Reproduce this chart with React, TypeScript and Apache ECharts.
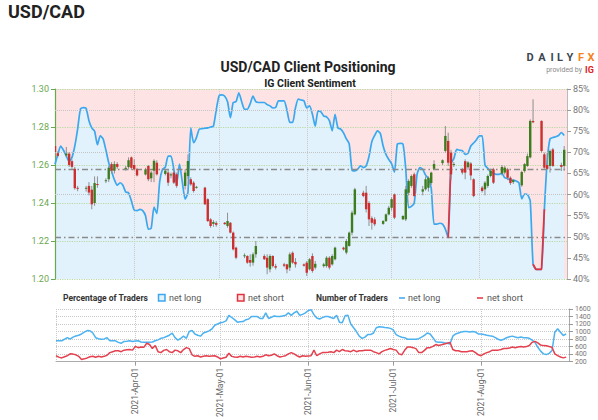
import React, { useEffect, useRef } from 'react';
import * as echarts from 'echarts';

const MONTHS = ['Jan', 'Feb', 'Mar', 'Apr', 'May', 'Jun', 'Jul', 'Aug', 'Sep', 'Oct', 'Nov', 'Dec'];
const AXIS_START = '2021-03-04';
const AXIS_END = '2021-09-01';
const DAILY_START = '2021-03-04';
const PRICE_TICKS = { min: 1.2, max: 1.3, interval: 0.02 };
const PCT_TICKS = { min: 40, max: 85, interval: 5 };
const COUNT_TICKS = { min: 200, max: 1600, interval: 200 };
const PCT_GUIDES = [80, 70, 60];
const PCT_MARKS = [66, 50];

// IG client sentiment: % of traders net long, one value per calendar day from DAILY_START
const pctLong = [
  67.2, 69.5, 71.5, 70.5, 69.1, 67.8, 68.8, 71.5, 75.5, 80.3,
  80.6, 80.4, 77.5, 75.8, 75.0, 71.8, 73.9, 73.2, 70.5, 67.5,
  65.5, 63.5, 62.2, 62.8, 62.2, 60.6, 60.4, 58.5, 56.3, 56.2,
  56.5, 56.2, 55.0, 51.8, 52.0, 57.0, 55.5, 63.0, 66.0, 66.5,
  69.1, 69.1, 66.0, 62.5, 67.2, 63.0, 58.9, 60.5, 75.8, 72.3,
  73.5, 75.5, 75.6, 75.7, 75.8, 76.0, 76.2, 80.0, 83.4, 83.6,
  83.3, 82.0, 78.2, 81.8, 82.0, 84.1, 82.0, 80.2, 80.2, 81.5,
  83.3, 82.0, 81.8, 81.8, 81.8, 81.3, 81.0, 80.5, 80.6, 82.2,
  82.2, 82.2, 80.0, 77.1, 77.1, 80.5, 82.6, 82.4, 82.2, 80.5,
  81.0, 79.0, 76.2, 79.8, 79.6, 78.6, 78.4, 77.5, 75.1, 79.0,
  75.8, 75.5, 74.6, 73.2, 72.0, 65.8, 65.6, 66.0, 66.8, 66.4,
  66.8, 69.0, 72.5, 74.0, 75.1, 74.5, 71.5, 69.5, 68.3, 67.3,
  65.3, 71.9, 72.1, 72.0, 66.0, 56.9, 57.2, 58.0, 64.8, 66.4,
  66.0, 64.6, 63.8, 61.5, 53.0, 53.0, 53.2, 53.0, 51.8, 49.8,
  67.4, 68.5, 70.7, 70.5, 70.4, 69.5, 69.8, 71.5, 72.2, 73.0,
  73.9, 73.9, 67.0, 66.2, 65.4, 65.0, 64.8, 64.8, 65.0, 64.0,
  63.8, 63.4, 63.4, 63.2, 62.8, 59.0, 60.1, 60.0, 58.5, 43.5,
  42.3, 42.3, 42.3, 56.5, 68.0, 73.2, 73.5, 73.7, 74.0, 74.7,
  74.0,
];

// Number of traders, one value per calendar day from DAILY_START
const netLongCount = [
  754, 754, 754, 795, 837, 800, 853, 880, 903, 936,
  986, 1027, 1019, 961, 837, 810, 795, 804, 837, 754,
  754, 754, 713, 688, 738, 745, 754, 738, 750, 754,
  721, 713, 713, 713, 721, 754, 779, 820, 837, 870,
  903, 961, 837, 771, 820, 878, 820, 1002, 1027, 936,
  903, 878, 961, 990, 1019, 1068, 1168, 1200, 1234, 1250,
  1283, 1432, 1374, 1316, 1250, 1260, 1267, 1316, 1333, 1399,
  1399, 1399, 1349, 1349, 1498, 1349, 1380, 1416, 1399, 1399,
  1416, 1432, 1498, 1432, 1498, 1540, 1432, 1457, 1498, 1560,
  1581, 1450, 1360, 1333, 1370, 1399, 1399, 1374, 1349, 1432,
  1250, 1234, 1420, 1432, 1200, 1100, 1000, 878, 820, 853,
  919, 919, 961, 1101, 1126, 1120, 1110, 1101, 1085, 1044,
  919, 878, 850, 837, 795, 795, 795, 795, 810, 850,
  900, 961, 936, 837, 729, 713, 713, 700, 688, 671,
  878, 936, 961, 986, 1002, 1002, 986, 1002, 986, 936,
  936, 919, 903, 890, 878, 837, 795, 771, 795, 837,
  860, 878, 853, 837, 853, 837, 837, 820, 771, 713,
  582, 480, 406, 388, 420, 495, 984, 1073, 984, 894,
  937,
];

const netShortCount = [
  357, 320, 299, 330, 357, 407, 400, 382, 341, 258,
  274, 299, 330, 341, 316, 341, 324, 341, 370, 440,
  465, 489, 489, 465, 506, 515, 523, 506, 605, 572,
  589, 580, 688, 655, 547, 630, 465, 440, 500, 523,
  465, 440, 506, 489, 440, 520, 572, 547, 382, 341,
  357, 324, 341, 357, 341, 350, 357, 324, 274, 299,
  316, 423, 340, 324, 316, 341, 324, 341, 330, 316,
  324, 341, 324, 341, 382, 357, 370, 407, 357, 324,
  340, 357, 407, 440, 407, 357, 324, 357, 341, 350,
  357, 506, 357, 407, 440, 440, 450, 465, 440, 506,
  465, 523, 489, 480, 465, 506, 465, 489, 489, 500,
  506, 506, 465, 440, 407, 465, 500, 523, 547, 523,
  506, 407, 382, 500, 589, 589, 572, 547, 440, 440,
  500, 572, 572, 605, 655, 630, 650, 671, 688, 713,
  523, 489, 489, 465, 465, 465, 480, 489, 440, 382,
  357, 407, 440, 465, 506, 506, 506, 523, 547, 547,
  560, 589, 572, 589, 605, 589, 600, 630, 713, 740,
  700, 640, 626, 620, 600, 582, 406, 360, 324, 300,
  320,
];

// USD/CAD daily candles: [date, open, close, low, high]
const candles: [string, number, number, number, number][] = [
  ['2021-03-04', 1.2700, 1.2668, 1.2648, 1.2738],
  ['2021-03-05', 1.2662, 1.2648, 1.2640, 1.2672],
  ['2021-03-08', 1.2650, 1.2660, 1.2640, 1.2695],
  ['2021-03-09', 1.2660, 1.2600, 1.2590, 1.2668],
  ['2021-03-10', 1.2620, 1.2590, 1.2580, 1.2630],
  ['2021-03-11', 1.2580, 1.2478, 1.2470, 1.2590],
  ['2021-03-12', 1.2480, 1.2475, 1.2462, 1.2490],
  ['2021-03-15', 1.2475, 1.2480, 1.2460, 1.2490],
  ['2021-03-16', 1.2490, 1.2455, 1.2440, 1.2510],
  ['2021-03-17', 1.2470, 1.2393, 1.2367, 1.2490],
  ['2021-03-18', 1.2400, 1.2505, 1.2385, 1.2540],
  ['2021-03-19', 1.2500, 1.2495, 1.2480, 1.2540],
  ['2021-03-22', 1.2515, 1.2520, 1.2505, 1.2530],
  ['2021-03-23', 1.2525, 1.2586, 1.2510, 1.2595],
  ['2021-03-24', 1.2605, 1.2570, 1.2555, 1.2615],
  ['2021-03-25', 1.2570, 1.2605, 1.2555, 1.2620],
  ['2021-03-26', 1.2605, 1.2590, 1.2580, 1.2615],
  ['2021-03-29', 1.2580, 1.2585, 1.2570, 1.2595],
  ['2021-03-30', 1.2589, 1.2625, 1.2580, 1.2640],
  ['2021-03-31', 1.2640, 1.2585, 1.2575, 1.2645],
  ['2021-04-01', 1.2600, 1.2577, 1.2570, 1.2630],
  ['2021-04-02', 1.2577, 1.2545, 1.2540, 1.2585],
  ['2021-04-05', 1.2550, 1.2577, 1.2545, 1.2585],
  ['2021-04-06', 1.2595, 1.2525, 1.2515, 1.2600],
  ['2021-04-07', 1.2530, 1.2560, 1.2510, 1.2570],
  ['2021-04-08', 1.2570, 1.2622, 1.2510, 1.2630],
  ['2021-04-09', 1.2612, 1.2551, 1.2545, 1.2625],
  ['2021-04-12', 1.2553, 1.2570, 1.2545, 1.2580],
  ['2021-04-13', 1.2560, 1.2507, 1.2490, 1.2577],
  ['2021-04-14', 1.2545, 1.2551, 1.2530, 1.2560],
  ['2021-04-15', 1.2560, 1.2507, 1.2500, 1.2570],
  ['2021-04-16', 1.2551, 1.2490, 1.2480, 1.2560],
  ['2021-04-19', 1.2490, 1.2560, 1.2472, 1.2577],
  ['2021-04-20', 1.2542, 1.2621, 1.2528, 1.2656],
  ['2021-04-21', 1.2525, 1.2498, 1.2490, 1.2535],
  ['2021-04-22', 1.2507, 1.2463, 1.2455, 1.2515],
  ['2021-04-23', 1.2482, 1.2485, 1.2475, 1.2490],
  ['2021-04-26', 1.2481, 1.2393, 1.2390, 1.2485],
  ['2021-04-27', 1.2420, 1.2305, 1.2300, 1.2425],
  ['2021-04-28', 1.2314, 1.2279, 1.2270, 1.2320],
  ['2021-04-29', 1.2290, 1.2300, 1.2275, 1.2310],
  ['2021-04-30', 1.2295, 1.2285, 1.2275, 1.2305],
  ['2021-05-03', 1.2296, 1.2289, 1.2285, 1.2300],
  ['2021-05-04', 1.2279, 1.2305, 1.2270, 1.2349],
  ['2021-05-05', 1.2296, 1.2244, 1.2240, 1.2300],
  ['2021-05-06', 1.2244, 1.2156, 1.2150, 1.2250],
  ['2021-05-07', 1.2165, 1.2112, 1.2104, 1.2170],
  ['2021-05-10', 1.2121, 1.2125, 1.2110, 1.2135],
  ['2021-05-11', 1.2121, 1.2086, 1.2080, 1.2125],
  ['2021-05-12', 1.2100, 1.2086, 1.2065, 1.2130],
  ['2021-05-13', 1.2086, 1.2130, 1.2070, 1.2140],
  ['2021-05-14', 1.2130, 1.2174, 1.2112, 1.2200],
  ['2021-05-17', 1.2121, 1.2104, 1.2100, 1.2130],
  ['2021-05-18', 1.2112, 1.2060, 1.2025, 1.2130],
  ['2021-05-19', 1.2051, 1.2121, 1.2035, 1.2130],
  ['2021-05-20', 1.2121, 1.2068, 1.2060, 1.2125],
  ['2021-05-21', 1.2068, 1.2060, 1.2050, 1.2080],
  ['2021-05-24', 1.2077, 1.2070, 1.2062, 1.2085],
  ['2021-05-25', 1.2077, 1.2051, 1.2030, 1.2080],
  ['2021-05-26', 1.2060, 1.2130, 1.2042, 1.2140],
  ['2021-05-27', 1.2138, 1.2086, 1.2080, 1.2145],
  ['2021-05-28', 1.2090, 1.2077, 1.2060, 1.2110],
  ['2021-05-31', 1.2077, 1.2070, 1.2065, 1.2082],
  ['2021-06-01', 1.2086, 1.2033, 1.2016, 1.2095],
  ['2021-06-02', 1.2051, 1.2104, 1.2045, 1.2110],
  ['2021-06-03', 1.2121, 1.2042, 1.2033, 1.2135],
  ['2021-06-04', 1.2060, 1.2080, 1.2050, 1.2095],
  ['2021-06-07', 1.2068, 1.2077, 1.2060, 1.2085],
  ['2021-06-08', 1.2068, 1.2112, 1.2060, 1.2120],
  ['2021-06-09', 1.2112, 1.2060, 1.2050, 1.2120],
  ['2021-06-10', 1.2077, 1.2121, 1.2070, 1.2130],
  ['2021-06-11', 1.2104, 1.2165, 1.2098, 1.2170],
  ['2021-06-14', 1.2165, 1.2156, 1.2150, 1.2170],
  ['2021-06-15', 1.2139, 1.2200, 1.2130, 1.2210],
  ['2021-06-16', 1.2174, 1.2244, 1.2170, 1.2250],
  ['2021-06-17', 1.2244, 1.2349, 1.2230, 1.2360],
  ['2021-06-18', 1.2340, 1.2472, 1.2335, 1.2480],
  ['2021-06-21', 1.2454, 1.2437, 1.2430, 1.2465],
  ['2021-06-22', 1.2454, 1.2367, 1.2350, 1.2490],
  ['2021-06-23', 1.2400, 1.2314, 1.2279, 1.2410],
  ['2021-06-24', 1.2320, 1.2296, 1.2260, 1.2330],
  ['2021-06-25', 1.2314, 1.2288, 1.2278, 1.2325],
  ['2021-06-28', 1.2290, 1.2305, 1.2285, 1.2310],
  ['2021-06-29', 1.2305, 1.2340, 1.2300, 1.2345],
  ['2021-06-30', 1.2340, 1.2375, 1.2335, 1.2385],
  ['2021-07-01', 1.2375, 1.2420, 1.2360, 1.2430],
  ['2021-07-02', 1.2445, 1.2323, 1.2315, 1.2450],
  ['2021-07-05', 1.2314, 1.2332, 1.2310, 1.2335],
  ['2021-07-06', 1.2314, 1.2472, 1.2305, 1.2490],
  ['2021-07-07', 1.2454, 1.2516, 1.2440, 1.2525],
  ['2021-07-08', 1.2490, 1.2542, 1.2480, 1.2550],
  ['2021-07-09', 1.2551, 1.2437, 1.2430, 1.2560],
  ['2021-07-12', 1.2460, 1.2472, 1.2440, 1.2490],
  ['2021-07-13', 1.2472, 1.2525, 1.2465, 1.2540],
  ['2021-07-14', 1.2480, 1.2533, 1.2460, 1.2540],
  ['2021-07-15', 1.2505, 1.2560, 1.2495, 1.2565],
  ['2021-07-16', 1.2580, 1.2605, 1.2575, 1.2625],
  ['2021-07-19', 1.2610, 1.2625, 1.2600, 1.2630],
  ['2021-07-20', 1.2674, 1.2753, 1.2665, 1.2805],
  ['2021-07-21', 1.2727, 1.2612, 1.2595, 1.2770],
  ['2021-07-22', 1.2665, 1.2551, 1.2524, 1.2680],
  ['2021-07-23', 1.2600, 1.2605, 1.2590, 1.2615],
  ['2021-07-26', 1.2577, 1.2560, 1.2550, 1.2585],
  ['2021-07-27', 1.2620, 1.2560, 1.2525, 1.2630],
  ['2021-07-28', 1.2588, 1.2614, 1.2575, 1.2620],
  ['2021-07-29', 1.2608, 1.2545, 1.2520, 1.2615],
  ['2021-07-30', 1.2525, 1.2437, 1.2430, 1.2530],
  ['2021-08-02', 1.2481, 1.2463, 1.2455, 1.2490],
  ['2021-08-03', 1.2472, 1.2507, 1.2440, 1.2515],
  ['2021-08-04', 1.2490, 1.2542, 1.2480, 1.2550],
  ['2021-08-05', 1.2542, 1.2570, 1.2535, 1.2580],
  ['2021-08-06', 1.2577, 1.2507, 1.2500, 1.2585],
  ['2021-08-09', 1.2555, 1.2590, 1.2545, 1.2600],
  ['2021-08-10', 1.2560, 1.2586, 1.2550, 1.2595],
  ['2021-08-11', 1.2577, 1.2533, 1.2520, 1.2585],
  ['2021-08-12', 1.2533, 1.2505, 1.2495, 1.2540],
  ['2021-08-13', 1.2510, 1.2520, 1.2500, 1.2525],
  ['2021-08-16', 1.2493, 1.2563, 1.2485, 1.2570],
  ['2021-08-17', 1.2568, 1.2605, 1.2560, 1.2610],
  ['2021-08-18', 1.2595, 1.2647, 1.2590, 1.2660],
  ['2021-08-19', 1.2640, 1.2832, 1.2635, 1.2840],
  ['2021-08-20', 1.2832, 1.2825, 1.2820, 1.2946],
  ['2021-08-23', 1.2832, 1.2674, 1.2665, 1.2835],
  ['2021-08-24', 1.2656, 1.2586, 1.2580, 1.2665],
  ['2021-08-25', 1.2600, 1.2580, 1.2575, 1.2665],
  ['2021-08-26', 1.2595, 1.2674, 1.2560, 1.2682],
  ['2021-08-27', 1.2682, 1.2595, 1.2590, 1.2690],
  ['2021-08-30', 1.2600, 1.2590, 1.2568, 1.2612],
  ['2021-08-31', 1.2595, 1.2680, 1.2570, 1.2700],
];

const DAY = 86400000;
const NARROW = "'Liberation Sans Narrow', 'Roboto', sans-serif";
const SANS = "'Roboto', 'Liberation Sans', sans-serif";
const GREEN_AXIS = '#6aa84f';
const GREEN_GRID = '#b9d9a4';
const GRAY_GRID = '#c9c9c9';
const BLUE = '#3aa7ef';
const RED = '#e2323f';
const CANDLE_UP = '#3d7d1f';
const CANDLE_DOWN = '#cc2f2f';
const WICK = '#8f8f8f';
const PINK_BG = '#fde3e3';
const BLUE_BG = '#e2f2fc';

function toTs(s: string): number {
  const [y, m, d] = s.split('-').map(Number);
  return new Date(y, m - 1, d).getTime();
}
function dayTs(i: number): number {
  const [y, m, d] = DAILY_START.split('-').map(Number);
  return new Date(y, m - 1, d + i).getTime();
}
function fmtDate(v: number): string {
  const d = new Date(v);
  return `${d.getFullYear()}-${MONTHS[d.getMonth()]}-${String(d.getDate()).padStart(2, '0')}`;
}

export default function App() {
  const ref = useRef<HTMLDivElement>(null);
  useEffect(() => {
    if (!ref.current) return;
    const chart = echarts.init(ref.current, undefined, { renderer: 'svg' });
    const pctData = pctLong.map((v, i) => [dayTs(i), v]);
    const pctRed = pctLong.map((v, i) => [dayTs(i), v < 50 || (i > 0 && pctLong[i - 1] < 50) ? v : null]);
    const longData = netLongCount.map((v, i) => [dayTs(i), v]);
    const shortData = netShortCount.map((v, i) => [dayTs(i), v]);
    const candleData = candles.map((c) => [toTs(c[0]), c[1], c[2], c[3], c[4]]);
    const xMin = toTs(AXIS_START);
    const xMax = toTs(AXIS_END);

    const timeAxisCommon = {
      type: 'time',
      min: xMin,
      max: xMax,
      minInterval: 28 * DAY,
      splitNumber: 6,
      z: 3,
    };

    const logoLetters = [
      { t: 'D', x: 530, c: '#3b4650' },
      { t: 'A', x: 542, c: '#3b4650' },
      { t: 'I', x: 552, c: '#3b4650' },
      { t: 'L', x: 560, c: '#3b4650' },
      { t: 'Y', x: 570, c: '#3b4650' },
      { t: 'F', x: 581, c: '#f5821f' },
      { t: 'X', x: 591, c: '#f5821f' },
    ];

    const option: any = {
      animation: false,
      textStyle: { fontFamily: SANS },
      grid: [
        { left: 55, top: 89, width: 512, height: 190, show: true, backgroundColor: PINK_BG, borderWidth: 0, z: 0 },
        { left: 56, top: 309, width: 513, height: 57, show: false },
      ],
      xAxis: [
        {
          ...timeAxisCommon,
          gridIndex: 0,
          axisLabel: { show: false },
          axisTick: { show: false },
          axisLine: { show: false },
          splitLine: { show: true, lineStyle: { type: 'dotted', color: GRAY_GRID, width: 1 } },
        },
        {
          ...timeAxisCommon,
          gridIndex: 1,
          axisLabel: {
            show: true,
            rotate: 90,
            formatter: (v: number) => fmtDate(v),
            color: '#666',
            fontSize: 8.5,
            fontFamily: NARROW,
            margin: 6,
            showMinLabel: false,
            showMaxLabel: false,
          },
          axisTick: { show: true, length: 4, lineStyle: { color: '#999' } },
          axisLine: { show: true, lineStyle: { color: '#aaa', width: 1 } },
          splitLine: { show: true, lineStyle: { type: 'dotted', color: GRAY_GRID, width: 1 } },
        },
      ],
      yAxis: [
        {
          type: 'value',
          gridIndex: 0,
          position: 'left',
          min: PRICE_TICKS.min,
          max: PRICE_TICKS.max,
          interval: PRICE_TICKS.interval,
          z: 3,
          axisLabel: { formatter: (v: number) => v.toFixed(2), color: GREEN_AXIS, fontSize: 9, fontFamily: NARROW, margin: 6 },
          axisLine: { show: true, lineStyle: { color: GREEN_AXIS, width: 1.2 } },
          axisTick: { show: true, length: 4, lineStyle: { color: GREEN_AXIS } },
          splitLine: { show: true, lineStyle: { type: 'dotted', color: GREEN_GRID, width: 1.2 } },
        },
        {
          type: 'value',
          gridIndex: 0,
          position: 'right',
          min: PCT_TICKS.min,
          max: PCT_TICKS.max,
          interval: PCT_TICKS.interval,
          z: 3,
          axisLabel: { formatter: '{value}%', color: '#777', fontSize: 9, fontFamily: NARROW, margin: 6 },
          axisLine: { show: true, lineStyle: { color: '#bbb', width: 1 } },
          axisTick: { show: true, length: 4, lineStyle: { color: '#999' } },
          splitLine: { show: false },
        },
        {
          type: 'value',
          gridIndex: 1,
          position: 'right',
          min: COUNT_TICKS.min,
          max: COUNT_TICKS.max,
          interval: COUNT_TICKS.interval,
          z: 3,
          axisLabel: {
            formatter: (v: number) => String(v),
            color: '#777',
            fontSize: 7,
            lineHeight: 7,
            fontFamily: NARROW,
            margin: 6,
            showMinLabel: true,
            showMaxLabel: true,
            hideOverlap: false,
          },
          axisLine: { show: true, lineStyle: { color: '#aaa', width: 1 } },
          axisTick: { show: true, length: 4, lineStyle: { color: '#999' } },
          splitLine: { show: true, lineStyle: { type: 'dotted', color: GRAY_GRID, width: 1 } },
        },
      ],
      series: [
        {
          name: 'area',
          type: 'line',
          xAxisIndex: 0,
          yAxisIndex: 1,
          data: pctData,
          showSymbol: false,
          smooth: 0.2,
          lineStyle: { width: 0 },
          areaStyle: { color: BLUE_BG, opacity: 1, origin: 'start' },
          z: 1,
          silent: true,
        },
        {
          name: 'guides',
          type: 'line',
          xAxisIndex: 0,
          yAxisIndex: 1,
          data: [],
          z: 3,
          markLine: {
            silent: true,
            symbol: 'none',
            label: { show: false },
            lineStyle: { type: 'dotted', color: '#c4c4c4', width: 1 },
            data: PCT_GUIDES.map((v) => ({ yAxis: v })),
          },
        },
        {
          name: 'net long %',
          type: 'line',
          xAxisIndex: 0,
          yAxisIndex: 1,
          data: pctData,
          showSymbol: false,
          smooth: 0.2,
          lineStyle: { color: BLUE, width: 1.7 },
          z: 4,
          markLine: {
            silent: true,
            symbol: 'none',
            label: { show: false },
            lineStyle: { type: [6, 3, 1.5, 3], color: '#8a8a8a', width: 1.3 },
            data: PCT_MARKS.map((v) => ({ yAxis: v })),
          },
        },
        {
          name: 'net short %',
          type: 'line',
          xAxisIndex: 0,
          yAxisIndex: 1,
          data: pctRed,
          showSymbol: false,
          connectNulls: false,
          lineStyle: { color: RED, width: 1.7 },
          z: 5,
        },
        {
          name: 'price',
          type: 'custom',
          xAxisIndex: 0,
          yAxisIndex: 0,
          data: candleData,
          encode: { x: 0, y: [1, 2, 3, 4] },
          z: 6,
          clip: true,
          renderItem: (params: any, api: any) => {
            const t = api.value(0);
            const o = api.value(1);
            const c = api.value(2);
            const l = api.value(3);
            const h = api.value(4);
            const pO = api.coord([t, o]);
            const pC = api.coord([t, c]);
            const pL = api.coord([t, l]);
            const pH = api.coord([t, h]);
            const w = Math.max(api.size([DAY, 0])[0] * 0.85, 1.5);
            const top = Math.min(pO[1], pC[1]);
            const hh = Math.max(Math.abs(pO[1] - pC[1]), 1);
            return {
              type: 'group',
              children: [
                { type: 'line', shape: { x1: pH[0], y1: pH[1], x2: pL[0], y2: pL[1] }, style: { stroke: WICK, lineWidth: 1 } },
                { type: 'rect', shape: { x: pO[0] - w / 2, y: top, width: w, height: hh }, style: { fill: c >= o ? CANDLE_UP : CANDLE_DOWN } },
              ],
            };
          },
        },
        {
          name: 'net long',
          type: 'line',
          xAxisIndex: 1,
          yAxisIndex: 2,
          data: longData,
          showSymbol: false,
          lineStyle: { color: '#4db2f0', width: 1.5 },
          z: 4,
        },
        {
          name: 'net short',
          type: 'line',
          xAxisIndex: 1,
          yAxisIndex: 2,
          data: shortData,
          showSymbol: false,
          lineStyle: { color: '#e4404e', width: 1.5 },
          z: 4,
        },
      ],
      graphic: [
        { type: 'text', x: 8, y: 11, style: { text: 'USD/CAD', fontSize: 18, fontWeight: 'bold', fontFamily: SANS, fill: '#222', verticalAlign: 'middle' } },
        { type: 'text', x: 308, y: 67, style: { text: 'USD/CAD Client Positioning', fontSize: 14, fontWeight: 'bold', fontFamily: SANS, fill: '#222', align: 'center', verticalAlign: 'middle' } },
        { type: 'text', x: 310, y: 83, style: { text: 'IG Client Sentiment', fontSize: 10.5, fontWeight: 'bold', fontFamily: SANS, fill: '#222', align: 'center', verticalAlign: 'middle' } },
        ...logoLetters.map((l) => ({
          type: 'text',
          x: l.x,
          y: 57,
          style: { text: l.t, fontSize: 11, fontWeight: 'bold', fontFamily: SANS, fill: l.c, align: 'center', verticalAlign: 'middle' },
        })),
        { type: 'text', x: 582, y: 70, style: { text: 'provided by', fontSize: 7, fontFamily: SANS, fill: '#8a8a8a', align: 'right', verticalAlign: 'middle' } },
        { type: 'text', x: 585, y: 69.5, style: { text: 'IG', fontSize: 9, fontWeight: 'bold', fontFamily: SANS, fill: '#e0211d', verticalAlign: 'middle' } },
        { type: 'text', x: 63, y: 298, style: { text: 'Percentage of Traders', fontSize: 8.5, fontWeight: 'bold', fontFamily: NARROW, fill: '#333', verticalAlign: 'middle' } },
        { type: 'rect', shape: { x: 158.5, y: 294.5, width: 6.5, height: 6.5 }, style: { fill: BLUE_BG, stroke: BLUE, lineWidth: 1.5 } },
        { type: 'text', x: 169, y: 298, style: { text: 'net long', fontSize: 9, fontFamily: NARROW, fill: '#555', verticalAlign: 'middle' } },
        { type: 'rect', shape: { x: 237.5, y: 294.5, width: 6.5, height: 6.5 }, style: { fill: PINK_BG, stroke: RED, lineWidth: 1.5 } },
        { type: 'text', x: 248, y: 298, style: { text: 'net short', fontSize: 9, fontFamily: NARROW, fill: '#555', verticalAlign: 'middle' } },
        { type: 'text', x: 316, y: 298, style: { text: 'Number of Traders', fontSize: 8.5, fontWeight: 'bold', fontFamily: NARROW, fill: '#333', verticalAlign: 'middle' } },
        { type: 'line', shape: { x1: 399, y1: 298, x2: 405, y2: 298 }, style: { stroke: BLUE, lineWidth: 1.5 } },
        { type: 'text', x: 408, y: 298, style: { text: 'net long', fontSize: 9, fontFamily: NARROW, fill: '#555', verticalAlign: 'middle' } },
        { type: 'line', shape: { x1: 477, y1: 298, x2: 483, y2: 298 }, style: { stroke: RED, lineWidth: 1.5 } },
        { type: 'text', x: 487, y: 298, style: { text: 'net short', fontSize: 9, fontFamily: NARROW, fill: '#555', verticalAlign: 'middle' } },
      ],
    };
    chart.setOption(option);
    return () => chart.dispose();
  }, []);
  return <div ref={ref} style={{ position: 'absolute', left: 0, top: 0, width: 598, height: 420, background: '#fff' }} />;
}
